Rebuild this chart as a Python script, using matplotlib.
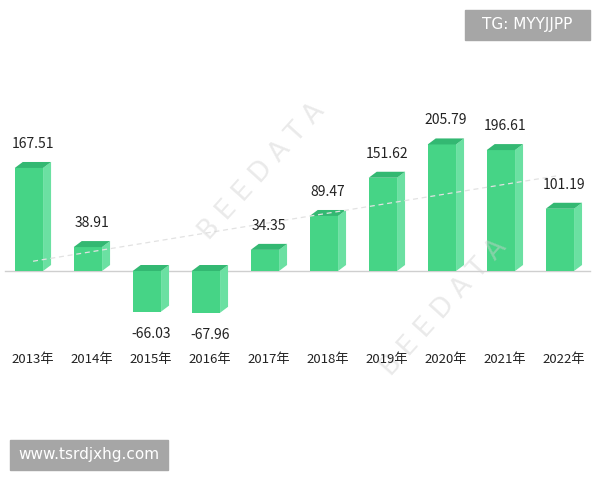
import matplotlib
matplotlib.use("Agg")
import matplotlib.pyplot as plt
import numpy as np

plt.rcParams['font.family'] = ['Noto Sans CJK SC', 'DejaVu Sans']

years = ['2013年', '2014年', '2015年', '2016年', '2017年', '2018年', '2019年', '2020年', '2021年', '2022年']
values = [167.51, 38.91, -66.03, -67.96, 34.35, 89.47, 151.62, 205.79, 196.61, 101.19]

fig = plt.figure(figsize=(6, 4.8), dpi=100)
ax = fig.add_axes([0, 0, 1, 1])
ax.set_xlim(-0.49, 9.68)
ax.set_ylim(-(480 - 271) / 0.615, 271 / 0.615)
ax.axis('off')

px_x = 1 / 59.0
px_y = 1 / 0.615

w = 0.48
dx = 8 * px_x
dy = 6 * px_y
front_c = '#46D486'
side_c = '#6BE0A2'
top_c = '#33B872'

ax.plot([5 * px_x - 0.49, 590 * px_x - 0.49], [0, 0], color='#cfcfcf', lw=1, zorder=1)

xs = np.arange(len(values))
for x, v, lab in zip(xs, values, years):
    x0, x1 = x - w / 2, x + w / 2
    lo, hi = min(0, v), max(0, v)
    ax.fill([x0, x1, x1, x0], [lo, lo, hi, hi], color=front_c, lw=0, zorder=3)
    ax.fill([x1, x1 + dx, x1 + dx, x1], [lo, lo + dy, hi + dy, hi], color=side_c, lw=0, zorder=3)
    ax.fill([x0, x0 + dx, x1 + dx, x1], [hi, hi + dy, hi + dy, hi], color=top_c, lw=0, zorder=3)
    yl = v + 24 * px_y if v >= 0 else v - 22 * px_y
    ax.text(x + 0.07, yl, f'{v:.2f}', ha='center', va='center',
            fontsize=10, color='#222222', zorder=6)
    ax.text(x + 0.07, -89 * px_y, lab, ha='center', va='center',
            fontsize=9.5, color='#222222', zorder=6)

# trend line
coef = np.polyfit(xs, values, 1)
tx = np.array([0.07, 9.0])
ax.plot(tx, np.polyval(coef, tx), color='#e2e2e2', lw=0.9, ls=(0, (4, 3)), zorder=4)

# watermarks
for cx, cy in [((262 / 59) - 0.49, (271 - 172) * px_y), ((444 / 59) - 0.49, (271 - 308) * px_y)]:
    ax.text(cx, cy, 'B E E D A T A', rotation=48, ha='center', va='center', fontsize=19,
            color='#d0d0d0', alpha=0.45, zorder=5, family='DejaVu Sans')

fig.patches.append(plt.Rectangle((465 / 600, 1 - 40 / 480), 125 / 600, 30 / 480,
                                 transform=fig.transFigure, color='#a6a6a6', zorder=10))
fig.text(527.5 / 600, 1 - 25 / 480, 'TG: MYYJJPP', ha='center', va='center', color='white',
         fontsize=11, family='DejaVu Sans', zorder=11)
fig.patches.append(plt.Rectangle((10 / 600, 1 - 470 / 480), 158 / 600, 30 / 480,
                                 transform=fig.transFigure, color='#a6a6a6', zorder=10))
fig.text(89 / 600, 1 - 455 / 480, 'www.tsrdjxhg.com', ha='center', va='center', color='white',
         fontsize=11, family='DejaVu Sans', zorder=11)

fig.savefig('out.png', dpi=100)
